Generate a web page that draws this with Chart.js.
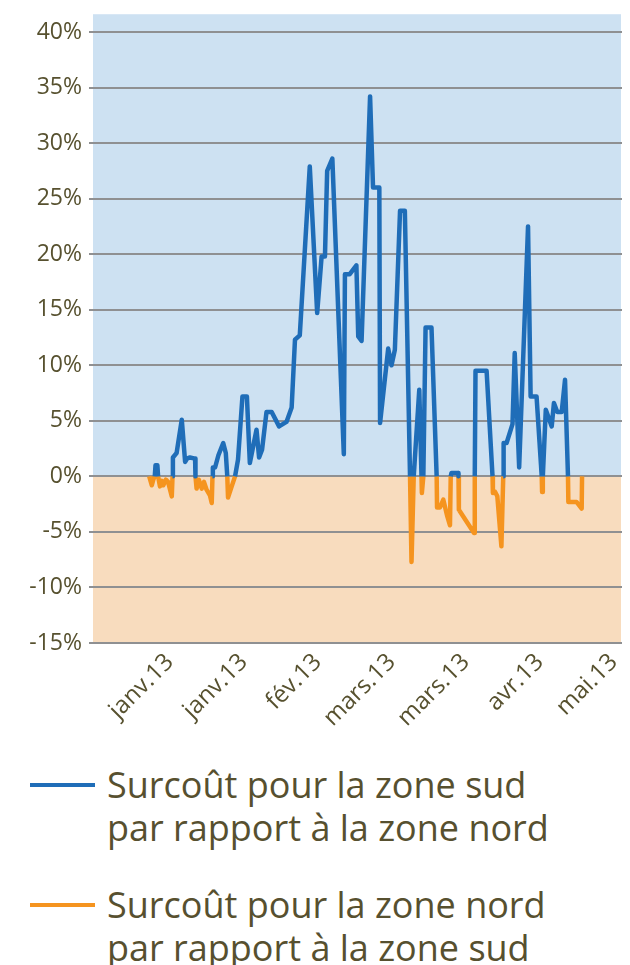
<!DOCTYPE html>
<html>
<head>
<meta charset="utf-8">
<script src="https://cdn.jsdelivr.net/npm/chart.js@4/dist/chart.umd.min.js"></script>
<style>
  html, body { margin: 0; padding: 0; background: #ffffff; }
  #wrap { position: relative; width: 630px; height: 965px; overflow: hidden; }
  #chartBox { position: absolute; left: 0; top: 0; width: 630px; height: 745px; }
  .lg-swatch { position: absolute; height: 4px; }
  .lg-text { position: absolute; font-family: "Open Sans", sans-serif; color: #57502f;
             white-space: pre-line; }
</style>
</head>
<body>
<div id="wrap">
  <div id="chartBox"><canvas id="c" width="630" height="745"></canvas></div>
  <div id="legend"></div>
</div>
<script>
// ---- Data ----
// x = days from 1 Jan 2013 ; null separates line pieces
const tickDays   = [0, 20, 40, 60, 80, 100, 120];
const tickLabels = ['janv.13', 'janv.13', 'fév.13', 'mars.13', 'mars.13', 'avr.13', 'mai.13'];

const sudLabel = 'Surcoût pour la zone sud\npar rapport à la zone nord';
const sudDays = [
  -4.1, -3.9, -3.4, -3.2, null,
  0.7, 0.8, 1.8, 3.2, 4.1, 4.6, 5.4, 6.8, 6.9, null,
  11.5, 11.6, 12.2, 13.1, 14.4, 15.1, 15.5, null,
  17.6, 18.4, 19.6, 20.8, 21.6, 23.4, 24.1, 24.9, 26.1, 27.5, 29.5, 31.5, 32.9, 33.8, 35.1,
  37.8, 39.8, 41.0, 41.9, 42.5, 43.9, 47.0, 47.3, 48.6, 50.4, 50.9, 51.8, 54.1, 54.9, 56.6,
  56.8, 59.0, 59.9, 60.8, 62.2, 63.5, 64.9, null,
  65.9, 67.4, 68.0, null,
  68.5, 69.1, 70.7, 72.1, null,
  75.9, 76.1, 77.9, 78.0, null,
  82.4, 82.6, 85.6, 87.2, null,
  90.1, 90.2, 91.0, 92.6, 93.2, 94.4, 96.8, 97.5, 99.1, 100.5, null,
  100.8, 101.6, 103.2, 103.8, 104.7, 105.9, 106.8, 107.6
];
const sudValues = [
  0, 1.0, 1.0, 0, null,
  0, 1.7, 2.1, 5.1, 1.3, 1.6, 1.7, 1.6, 0, null,
  0, 0.8, 0.8, 1.9, 3.0, 2.1, 0, null,
  0, 1.5, 7.2, 7.2, 1.2, 4.2, 1.7, 2.4, 5.8, 5.8, 4.5, 4.9, 6.2, 12.3, 12.7,
  27.9, 14.7, 19.8, 19.8, 27.5, 28.6, 2.0, 18.2, 18.2, 19.0, 12.6, 12.2, 34.2, 26.0, 26.0,
  4.8, 11.5, 10.0, 11.4, 23.9, 23.9, 0, null,
  0, 7.8, 0, null,
  0, 13.4, 13.4, 0, null,
  0, 0.3, 0.3, 0, null,
  0, 9.5, 9.5, 0, null,
  0, 3.0, 3.0, 4.7, 11.1, 0.8, 22.5, 7.2, 7.2, 0, null,
  0, 6.0, 4.5, 6.6, 5.8, 5.8, 8.7, 0
];

const nordLabel = 'Surcoût pour la zone nord\npar rapport à la zone sud';
const nordDays = [
  -5.6, -4.9, -4.5, -4.1, null,
  -3.2, -2.7, -2.2, -1.8, -1.1, -0.5, 0.5, 0.7, null,
  6.9, 7.2, 7.8, 8.6, 9.2, 9.9, 10.8, 11.3, 11.5, null,
  15.5, 15.7, 16.7, 17.6, null,
  64.9, 65.3, 65.9, null,
  68.0, 68.1, 68.5, null,
  72.1, 72.2, 73.0, 73.9, 74.9, 75.7, 75.9, null,
  78.0, 78.1, 82.2, 82.4, null,
  87.2, 87.3, 87.9, 88.5, 89.6, 90.1, null,
  100.5, 100.6, 100.8, null,
  107.6, 107.7, 109.9, 111.3, 111.4
];
const nordValues = [
  0, -0.8, -0.3, 0, null,
  0, -0.9, -0.4, -0.8, -0.3, -0.5, -1.8, 0, null,
  0, -1.1, -0.3, -1.1, -0.5, -1.2, -1.7, -2.4, 0, null,
  0, -1.9, -0.9, 0, null,
  0, -7.7, 0, null,
  0, -1.5, 0, null,
  0, -2.8, -2.8, -2.1, -3.5, -4.4, 0, null,
  0, -3.0, -5.1, 0, null,
  0, -1.5, -1.4, -1.8, -6.3, 0, null,
  0, -1.4, 0, null,
  0, -2.3, -2.3, -2.9, 0
];

// ---- Styles ----
const BLUE = '#1f6db8';
const ORANGE = '#f5941f';
const BG_BLUE = '#cde1f2';
const BG_ORANGE = '#f8dcbe';
const GRID = '#8f9092';
const TEXT = '#57512f';
const FONT = '"Open Sans", sans-serif';

function toPoints(days, vals) {
  const out = [];
  let last = 0;
  for (let i = 0; i < days.length; i++) {
    const d = days[i] === null ? last : days[i];
    last = d;
    out.push({ x: d, y: vals[i] });
  }
  return out;
}

const bgPlugin = {
  id: 'zoneBackground',
  beforeDraw(chart) {
    const { ctx, scales: { x, y } } = chart;
    const left = x.getPixelForValue(x.min);
    const right = x.getPixelForValue(x.max) - 1;
    const top = y.getPixelForValue(41.6);
    const zero = y.getPixelForValue(0);
    const bottom = y.getPixelForValue(y.min);
    ctx.save();
    ctx.fillStyle = BG_BLUE;
    ctx.fillRect(left, top, right - left, zero - top);
    ctx.fillStyle = BG_ORANGE;
    ctx.fillRect(left, zero, right - left, bottom - zero);
    ctx.restore();
  }
};

const chart = new Chart(document.getElementById('c'), {
  type: 'line',
  data: {
    datasets: [
      { label: sudLabel, data: toPoints(sudDays, sudValues), borderColor: BLUE,
        borderWidth: 4.5, pointRadius: 0, spanGaps: false, borderJoinStyle: 'round', tension: 0 },
      { label: nordLabel, data: toPoints(nordDays, nordValues), borderColor: ORANGE,
        borderWidth: 4.5, pointRadius: 0, spanGaps: false, borderJoinStyle: 'round', tension: 0 }
    ]
  },
  options: {
    responsive: false,
    animation: false,
    events: [],
    layout: { padding: { top: 32, right: 8, left: 0, bottom: 0 } },
    plugins: { legend: { display: false }, tooltip: { enabled: false } },
    scales: {
      x: {
        type: 'linear',
        min: -20.8,
        max: 122.2,
        afterBuildTicks(scale) { scale.ticks = tickDays.map(v => ({ value: v })); },
        afterFit(scale) {
          scale.height = 102;
          scale.paddingLeft = 0;
          scale.paddingRight = 0;
        },
        grid: { display: false, drawTicks: false },
        border: { display: false },
        ticks: {
          autoSkip: false,
          minRotation: 45,
          maxRotation: 45,
          padding: 5,
          color: TEXT,
          font: { family: FONT, size: 24 },
          callback: (v, i) => tickLabels[i]
        }
      },
      y: {
        min: -15,
        max: 40,
        afterFit(scale) { scale.width = 93; },
        grid: { color: GRID, lineWidth: 2, drawTicks: true, tickLength: 4, tickColor: GRID },
        border: { display: false },
        ticks: {
          stepSize: 5,
          padding: 7,
          color: TEXT,
          font: { family: FONT, size: 23 },
          callback: v => v + '%'
        }
      }
    }
  },
  plugins: [bgPlugin]
});

// ---- HTML legend built from the datasets ----
const legendTops = [763, 883];
const legend = document.getElementById('legend');
chart.data.datasets.forEach((ds, i) => {
  const sw = document.createElement('div');
  sw.className = 'lg-swatch';
  sw.style.left = '30px';
  sw.style.width = '65px';
  sw.style.top = (legendTops[i] + 20) + 'px';
  sw.style.background = ds.borderColor;
  legend.appendChild(sw);
  const tx = document.createElement('div');
  tx.className = 'lg-text';
  tx.style.left = '107px';
  tx.style.top = legendTops[i] + 'px';
  tx.style.fontSize = '36px';
  tx.style.lineHeight = '43px';
  tx.textContent = ds.label;
  legend.appendChild(tx);
});
</script>
</body>
</html>
